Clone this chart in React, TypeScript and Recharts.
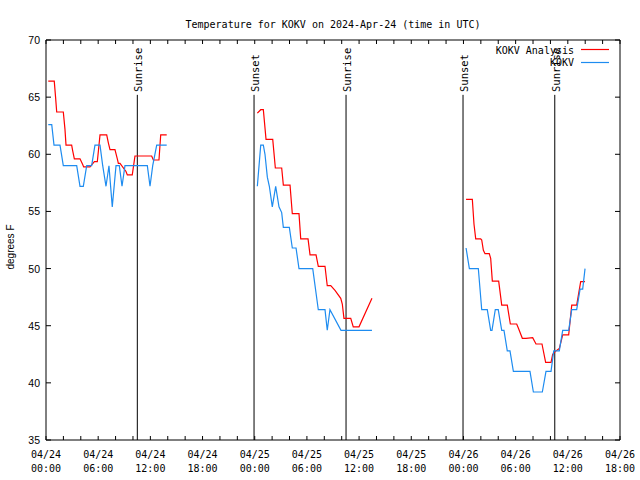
import React from "react";
import {
  LineChart,
  Line,
  XAxis,
  YAxis,
  ReferenceLine,
  ReferenceArea,
} from "recharts";

// hours since 04/24 00:00 UTC, temperature in F
const analysis24: [number, number][] = [
  [0.26, 66.4], [0.95, 66.4], [1.1, 65.0], [1.23, 63.7], [1.99, 63.7], [2.18, 62.2],
  [2.3, 60.8], [2.95, 60.8], [3.07, 60.3], [3.26, 59.6], [3.91, 59.6], [4.22, 59.1],
  [4.33, 58.9], [5.06, 58.9], [5.56, 59.35], [5.9, 59.35], [6.21, 61.7], [6.98, 61.7],
  [7.17, 61.0], [7.36, 60.4], [7.93, 60.4], [8.2, 59.6], [8.32, 59.2], [8.51, 59.2],
  [9.2, 58.5], [9.35, 58.2], [9.92, 58.2], [10.23, 59.85], [12.15, 59.85], [12.34, 59.5],
  [12.99, 59.5], [13.19, 61.7], [13.88, 61.7],
];
const analysis25: [number, number][] = [
  [24.3, 63.6], [24.69, 63.9], [24.99, 63.9], [25.3, 61.3], [26.07, 61.3], [26.37, 58.8],
  [27.1, 58.8], [27.29, 57.3], [28.06, 57.3], [28.32, 54.8], [29.09, 54.8], [29.29, 52.6],
  [30.13, 52.6], [30.36, 51.2], [31.05, 51.2], [31.31, 50.2], [32.08, 50.2], [32.34, 48.5],
  [32.74, 48.5], [33.23, 48.1], [33.89, 47.4], [34.07, 46.9], [34.26, 45.65], [35.04, 45.65],
  [35.33, 44.9], [35.99, 44.9], [37.48, 47.4],
];
const analysis26: [number, number][] = [
  [48.3, 56.06], [49.02, 56.06], [49.21, 53.9], [49.41, 52.6], [49.98, 52.6], [50.1, 52.5],
  [50.29, 51.6], [50.48, 51.3], [50.97, 51.3], [51.13, 50.9], [51.32, 48.9], [52.05, 48.9],
  [52.4, 46.8], [53.04, 46.8], [53.39, 45.15], [54.12, 45.15], [54.31, 44.8], [54.77, 43.9],
  [55.19, 43.9], [55.96, 43.95], [56.34, 43.4], [57.03, 43.4], [57.45, 41.8], [58.07, 41.8],
  [58.26, 42.5], [58.64, 42.8], [59.02, 43.0], [59.22, 43.6], [59.41, 44.2], [60.1, 44.2],
  [60.45, 46.8], [61.02, 46.8], [61.48, 48.86], [61.98, 48.86],
];

const obs24: [number, number][] = [
  [0.26, 62.6], [0.66, 62.6], [0.92, 60.8], [1.61, 60.8], [1.99, 59.0], [3.53, 59.0],
  [3.91, 57.2], [4.29, 57.2], [4.68, 59.0], [5.25, 59.0], [5.63, 60.8], [6.21, 60.8],
  [6.52, 59.0], [6.9, 57.2], [7.24, 59.0], [7.62, 55.4], [8.05, 59.0], [8.43, 59.0],
  [8.74, 57.2], [9.08, 59.0], [11.65, 59.0], [11.96, 57.2], [12.27, 59.0], [12.73, 60.8],
  [13.88, 60.8],
];
const obs25: [number, number][] = [
  [24.3, 57.2], [24.69, 60.8], [24.99, 60.8], [25.18, 60.0], [25.45, 58.0], [25.68, 57.2],
  [26.02, 55.4], [26.41, 57.2], [26.79, 55.4], [27.1, 54.9], [27.29, 53.6], [27.98, 53.6],
  [28.32, 51.8], [28.75, 51.8], [29.09, 50.0], [30.67, 50.0], [31.31, 46.4], [32.08, 46.4],
  [32.34, 44.6], [32.65, 46.4], [33.92, 44.6], [37.48, 44.6],
];
const obs26: [number, number][] = [
  [48.3, 51.8], [48.49, 50.9], [48.68, 50.0], [49.71, 50.0], [50.1, 46.4], [50.74, 46.4],
  [51.13, 44.6], [51.28, 44.6], [51.66, 46.4], [52.0, 46.4], [52.4, 44.6], [52.66, 44.6],
  [53.04, 42.8], [53.35, 42.8], [53.74, 41.0], [55.65, 41.0], [56.04, 39.2], [57.07, 39.2],
  [57.49, 41.0], [58.07, 41.0], [58.38, 42.8], [59.02, 42.8], [59.41, 44.6], [60.1, 44.6],
  [60.45, 46.4], [61.02, 46.4], [61.41, 48.2], [61.71, 48.2], [61.98, 50.0],
];

const sunEvents = [
  { t: 10.5, label: "Sunrise" },
  { t: 23.92, label: "Sunset" },
  { t: 34.5, label: "Sunrise" },
  { t: 47.95, label: "Sunset" },
  { t: 58.5, label: "Sunrise" },
];

const xTicks = [0, 2, 4, 6, 8, 10, 12, 14, 16, 18, 20, 22, 24, 26, 28, 30, 32, 34, 36, 38, 40,
  42, 44, 46, 48, 50, 52, 54, 56, 58, 60, 62, 64, 66];
const yTicks = [35, 40, 45, 50, 55, 60, 65, 70];
const dayLabels = ["04/24", "04/25", "04/26"];
const hourLabels = ["00:00", "06:00", "12:00", "18:00"];

const RED = "#ff0000";
const BLUE = "#1e8cf0";
const MONO = "'DejaVu Sans Mono', monospace";
const SANS = "'Liberation Sans', Arial, sans-serif";

const toPoints = (seg: [number, number][]) => seg.map(([t, v]) => ({ t, v }));

const TimeTick = (props: any) => {
  const { x, payload } = props;
  const h = payload.value as number;
  const major = h % 6 === 0;
  return (
    <g>
      <line x1={x} x2={x} y1={440} y2={436} stroke="#000" />
      <line x1={x} x2={x} y1={40} y2={44} stroke="#000" />
      {major && (
        <text x={x} y={458} textAnchor="middle" fontFamily={MONO} fontSize={10} fill="#000">
          <tspan x={x}>{dayLabels[Math.floor(h / 24)]}</tspan>
          <tspan x={x} dy={14}>{hourLabels[(h % 24) / 6]}</tspan>
        </text>
      )}
    </g>
  );
};

const TempTick = (props: any) => {
  const { y, payload } = props;
  return (
    <g>
      <line x1={46} x2={51} y1={y} y2={y} stroke="#000" />
      <line x1={620} x2={615} y1={y} y2={y} stroke="#000" />
      <text x={40} y={y} dy={4} textAnchor="end" fontFamily={SANS} fontSize={10.5} fill="#000">
        {payload.value}
      </text>
    </g>
  );
};

const SunLabel = (props: any) => {
  const { viewBox, text } = props;
  const x = (viewBox?.x ?? 0) + 1;
  const y = 92;
  return (
    <text
      x={x}
      y={y}
      transform={`rotate(-90 ${x} ${y})`}
      textAnchor="start"
      dominantBaseline="central"
      fontFamily={MONO}
      fontSize={10.5}
      fill="#000"
    >
      {text}
    </text>
  );
};

export default function App() {
  return (
    <div style={{ position: "absolute", left: 0, top: 0, width: 640, height: 480, background: "#fff" }}>
      <LineChart width={640} height={480} margin={{ top: 40, right: 20, left: 0, bottom: 0 }}>
        <XAxis
          dataKey="t"
          type="number"
          domain={[0, 66]}
          ticks={xTicks}
          interval={0}
          axisLine={false}
          tickLine={false}
          tick={<TimeTick />}
          height={40}
          allowDataOverflow
        />
        <YAxis
          type="number"
          domain={[35, 70]}
          ticks={yTicks}
          interval={0}
          axisLine={false}
          tickLine={false}
          tick={<TempTick />}
          width={46}
          allowDataOverflow
        />
        <ReferenceArea x1={0} x2={66} y1={35} y2={70} fill="none" stroke="#000" strokeWidth={1} ifOverflow="visible" />
        {sunEvents.map((s, i) => (
          <ReferenceLine
            key={i}
            segment={[{ x: s.t, y: 35 }, { x: s.t, y: 65.2 }]}
            stroke="#000"
            strokeWidth={1}
            label={<SunLabel text={s.label} />}
          />
        ))}
        {[analysis24, analysis25, analysis26].map((seg, i) => (
          <Line
            key={"a" + i}
            data={toPoints(seg)}
            dataKey="v"
            stroke={RED}
            strokeWidth={1.2}
            dot={false}
            type="linear"
            isAnimationActive={false}
          />
        ))}
        {[obs24, obs25, obs26].map((seg, i) => (
          <Line
            key={"o" + i}
            data={toPoints(seg)}
            dataKey="v"
            stroke={BLUE}
            strokeWidth={1.2}
            dot={false}
            type="linear"
            isAnimationActive={false}
          />
        ))}
      </LineChart>
      <svg
        width={640}
        height={480}
        style={{ position: "absolute", left: 0, top: 0, pointerEvents: "none" }}
      >
        <text x={333} y={28} textAnchor="middle" fontFamily={MONO} fontSize={10} fill="#000">
          Temperature for KOKV on 2024-Apr-24 (time in UTC)
        </text>
        <text
          x={14}
          y={247}
          transform="rotate(-90 14 247)"
          textAnchor="middle"
          fontFamily={SANS}
          fontSize={10}
          fill="#000"
        >
          degrees F
        </text>
        <text x={574} y={53.5} textAnchor="end" fontFamily={MONO} fontSize={10} fill="#000">
          KOKV Analysis
        </text>
        <line x1={581} x2={609} y1={49.5} y2={49.5} stroke={RED} strokeWidth={1.2} />
        <text x={574} y={65.5} textAnchor="end" fontFamily={MONO} fontSize={10} fill="#000">
          KOKV
        </text>
        <line x1={581} x2={609} y1={62.5} y2={62.5} stroke={BLUE} strokeWidth={1.2} />
      </svg>
    </div>
  );
}
